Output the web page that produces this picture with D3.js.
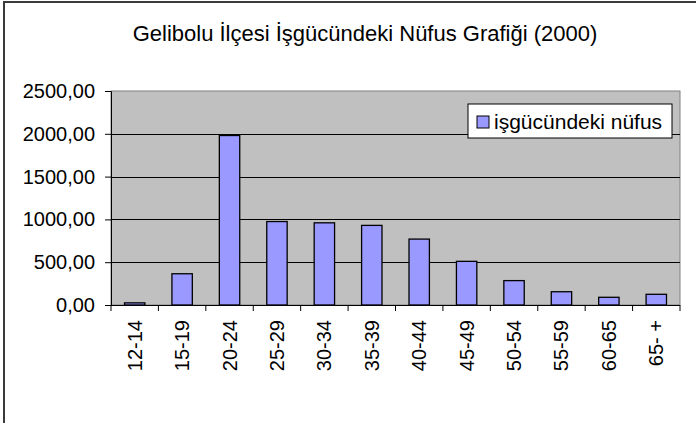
<!DOCTYPE html>
<html>
<head>
<meta charset="utf-8">
<script src="https://cdn.jsdelivr.net/npm/d3@7"></script>
<style>
  body { margin: 0; background: #fff; }
  text { font-family: "Liberation Sans", Arial, sans-serif; fill: #000; }
</style>
</head>
<body>
<div id="chart"></div>
<script>
// data
var ageGroups = ["12-14", "15-19", "20-24", "25-29", "30-34", "35-39",
                 "40-44", "45-49", "50-54", "55-59", "60-65", "65- +"];
var workforce = [25, 365, 1980, 975, 960, 930, 770, 510, 285, 155, 90, 125];
var yTicks = [0, 500, 1000, 1500, 2000, 2500];
var seriesName = "işgücündeki nüfus";
var titleText = "Gelibolu İlçesi İşgücündeki Nüfus Grafiği (2000)";

var width = 696, height = 423;
var margin = {top: 91, right: 16, bottom: 118, left: 111};
var innerWidth = width - margin.left - margin.right,
    innerHeight = height - margin.top - margin.bottom;

var data = ageGroups.map(function(d, i) { return {group: d, value: workforce[i]}; });

var svg = d3.select("#chart").append("svg")
    .attr("width", width)
    .attr("height", height);

// chart area border, only left and top edges are visible in the original
svg.append("path")
    .attr("d", "M4," + height + "V2H" + width)
    .attr("fill", "none")
    .attr("stroke", "#3a3a3a")
    .attr("stroke-width", 2);

svg.append("text")
    .attr("x", 365)
    .attr("y", 41)
    .attr("text-anchor", "middle")
    .style("font-size", "22px")
    .text(titleText);

var g = svg.append("g")
    .attr("transform", "translate(" + margin.left + "," + margin.top + ")");

// categories: ticks sit on the band edges
var x = d3.scaleBand()
    .domain(ageGroups)
    .range([0, innerWidth])
    .paddingInner(0.57)
    .paddingOuter(0.285);

var y = d3.scaleLinear()
    .domain([0, 2500])
    .range([innerHeight, 0]);

var trLocale = d3.formatLocale({decimal: ",", thousands: ".", grouping: [3], currency: ["", ""]});
var fmt = trLocale.format(".2f");

// plot area
g.append("rect")
    .attr("width", innerWidth)
    .attr("height", innerHeight)
    .attr("fill", "#c0c0c0")
    .attr("stroke", "#808080")
    .attr("stroke-width", 1);

// gridlines
g.selectAll(".grid")
    .data(yTicks.filter(function(d) { return d > 0 && d < 2500; }))
  .enter().append("line")
    .attr("class", "grid")
    .attr("x1", 0)
    .attr("x2", innerWidth)
    .attr("y1", function(d) { return Math.round(y(d)) + 0.5; })
    .attr("y2", function(d) { return Math.round(y(d)) + 0.5; })
    .attr("stroke", "#000")
    .attr("stroke-width", 1);

// bars
g.selectAll(".bar")
    .data(data)
  .enter().append("rect")
    .attr("class", "bar")
    .attr("x", function(d) { return x(d.group); })
    .attr("width", x.bandwidth())
    .attr("y", function(d) { return y(d.value); })
    .attr("height", function(d) { return innerHeight - y(d.value); })
    .attr("fill", "#9999ff")
    .attr("stroke", "#000")
    .attr("stroke-width", 1.3);

// y axis
var yAxis = d3.axisLeft(y)
    .tickValues(yTicks)
    .tickSize(6)
    .tickPadding(10)
    .tickFormat(fmt);

var yAxisG = g.append("g").call(yAxis);
yAxisG.attr("font-size", null).attr("font-family", null);
yAxisG.select(".domain").attr("stroke", "#000");
yAxisG.selectAll("text")
    .style("font-size", "20px");

// x axis: tick marks on band boundaries
var step = x.step();
var xAxisG = g.append("g")
    .attr("transform", "translate(0," + innerHeight + ")");

xAxisG.append("line")
    .attr("x1", 0).attr("x2", innerWidth)
    .attr("y1", 0.5).attr("y2", 0.5)
    .attr("stroke", "#000");

xAxisG.selectAll(".xtick")
    .data(d3.range(ageGroups.length + 1))
  .enter().append("line")
    .attr("class", "xtick")
    .attr("x1", function(i) { return i * step; })
    .attr("x2", function(i) { return i * step; })
    .attr("y1", 0)
    .attr("y2", 6)
    .attr("stroke", "#000");

xAxisG.selectAll(".xlabel")
    .data(ageGroups)
  .enter().append("text")
    .attr("class", "xlabel")
    .attr("text-anchor", "end")
    .attr("dy", "0.35em")
    .attr("transform", function(d) {
      return "translate(" + (x(d) + x.bandwidth() / 2) + ",15) rotate(-90)";
    })
    .style("font-size", "20px")
    .text(function(d) { return d; });

// legend
var legend = svg.append("g")
    .attr("transform", "translate(468,104)");

legend.append("rect")
    .attr("width", 204)
    .attr("height", 34)
    .attr("fill", "#fff")
    .attr("stroke", "#000");

legend.append("rect")
    .attr("x", 9).attr("y", 12)
    .attr("width", 12).attr("height", 12)
    .attr("fill", "#9999ff")
    .attr("stroke", "#000");

legend.append("text")
    .attr("x", 26)
    .attr("y", 25)
    .style("font-size", "21px")
    .text(seriesName);
</script>
</body>
</html>
